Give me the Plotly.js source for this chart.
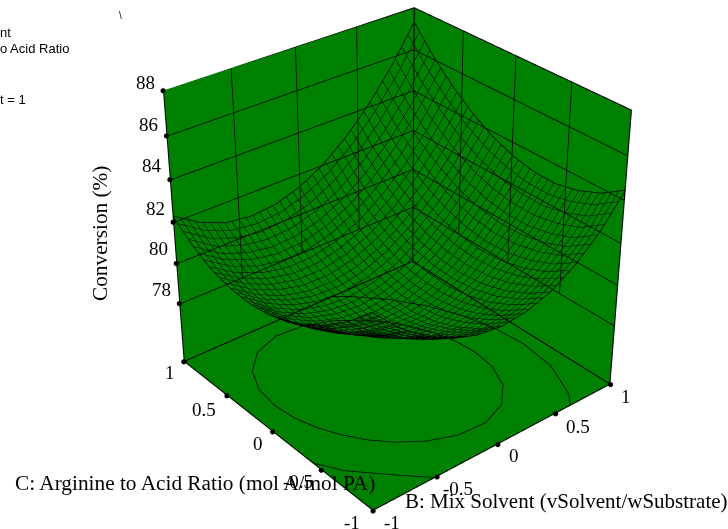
<!DOCTYPE html>
<html><head><meta charset="utf-8">
<script src="https://cdn.plot.ly/plotly-3.0.1.min.js"></script>
<style>html,body{margin:0;padding:0;width:728px;height:529px;overflow:hidden;background:#fff}
#wrap{position:absolute;left:0;top:0;width:728px;height:529px;overflow:hidden}
#plot{position:absolute}</style></head>
<body><div id="wrap"><div id="plot"></div></div>
<script>
const bGrid=[-1,-0.8,-0.6,-0.4,-0.2,0,0.2,0.4,0.6,0.8,1];
const cGrid=[-1,-0.8,-0.6,-0.4,-0.2,0,0.2,0.4,0.6,0.8,1];
const conversion=[
[84.10,82.89,81.96,81.29,80.88,80.75,80.88,81.29,82.02,83.05,84.45],
[83.05,82.00,81.16,80.55,80.14,79.96,80.15,80.60,81.33,82.31,83.75],
[82.20,81.24,80.51,79.95,79.55,79.37,79.60,80.11,80.89,81.93,83.32],
[81.53,80.63,79.95,79.43,79.08,78.96,79.25,79.81,80.63,81.72,83.09],
[81.04,80.14,79.47,79.00,78.76,78.73,79.07,79.69,80.56,81.71,83.12],
[80.75,79.80,79.13,78.72,78.57,78.70,79.09,79.76,80.69,81.88,83.35],
[80.64,79.75,79.12,78.77,78.67,78.85,79.30,80.01,81.00,82.24,83.76],
[80.73,79.88,79.31,79.01,78.97,79.20,79.69,80.46,81.50,82.80,84.37],
[81.00,80.21,79.69,79.43,79.44,79.73,80.28,81.10,82.18,83.53,85.16],
[81.55,80.71,80.25,80.04,80.11,80.44,81.04,81.92,83.05,84.46,86.13],
[82.30,81.50,81.00,80.85,80.96,81.35,82.00,82.93,84.12,85.57,87.30]];
const zTicks=[78,80,82,84,86,88];
const bTicks=[-1,-0.5,0,0.5,1];
const cTicks=[-1,-0.5,0,0.5,1];
const zLabelYShift=[14,15,14,14,11,8];
const bLabelShift=[[19,-12],[21,-12],[16,-11],[22,-13],[16,-12]];
const cLabelShift=[[-21,-12],[-23,-11],[-15,-12],[-23,-14],[-14,-11]];
const zFloor=75, zTop=88;
const ring80B=[0.547,0.501,0.431,0.338,0.217,0.061,-0.133,-0.352,-0.561,-0.718,-0.804,-0.829,-0.813,-0.767,-0.697,-0.604,-0.483,-0.327,-0.133,0.087,0.296,0.452,0.538,0.563,0.547];
const ring80C=[0.027,0.197,0.353,0.498,0.632,0.748,0.829,0.845,0.769,0.612,0.414,0.214,0.027,-0.143,-0.299,-0.445,-0.579,-0.694,-0.776,-0.791,-0.715,-0.559,-0.361,-0.161,0.027];
const arc82RightB=[0.63,0.711,0.78,0.842,0.882,0.856,0.787,0.680,0.537,0.352,0.24];
const arc82RightC=[-1,-0.905,-0.75,-0.603,-0.298,-0.013,0.247,0.484,0.705,0.910,1];
const arc82FrontB=[-1,-0.9,-0.78,-0.65,-0.52];
const arc82FrontC=[-0.42,-0.6,-0.73,-0.87,-1];
const arc82LeftB=[-1,-0.97];
const arc82LeftC=[0.97,1];

const K=2.7, cxPx=395, cyPx=243;
const W=Math.round(728*K), H=Math.round(529*K);
const left=Math.round(cxPx-W/2), top_=Math.round(cyPx-H/2);
const el=document.getElementById('plot');
el.style.left=left+'px'; el.style.top=top_+'px'; el.style.width=W+'px'; el.style.height=H+'px';
const px=(x,y)=>({x:(x-left)/W,y:1-(y-top_)/H});

const eps=0.006, zLift=0.04;
const wx=[],wy=[],wz=[];
const seg=(pts)=>{pts.forEach(p=>{wx.push(p[0]);wy.push(p[1]);wz.push(p[2]);});wx.push(null);wy.push(null);wz.push(null);};
const far=1-eps;
zTicks.forEach(z=>seg([[-1,far,z],[far,far,z],[far,-1,z]]));
bTicks.slice(1,-1).forEach(b=>seg([[b,far,78],[b,far,zTop]]));
cTicks.slice(1,-1).forEach(c=>seg([[far,c,78],[far,c,zTop]]));
const fx=[],fy=[],fz=[];
const seg2=(pts)=>{pts.forEach(p=>{fx.push(p[0]);fy.push(p[1]);fz.push(p[2]);});fx.push(null);fy.push(null);fz.push(null);};
const fl=zFloor+zLift;
seg2([[-1,far,zTop],[-1,far,fl],[far,far,fl],[far,-1,fl],[far,-1,zTop],[far,far,zTop],[-1,far,zTop]]);
seg2([[far,far,zTop],[far,far,fl]]);
seg2([[-1,far,fl],[-1,-1,fl],[far,-1,fl]]);
const contourTrace=(bs,cs)=>({type:'scatter3d',mode:'lines',x:bs,y:cs,z:bs.map(()=>fl),line:{color:'#000',width:1.5},hoverinfo:'skip',showlegend:false});
const n=bGrid.length-1;
const rimTrace=(xs,ys,zs)=>({type:'scatter3d',mode:'lines',x:xs,y:ys,z:zs,line:{color:'#000',width:1.5},hoverinfo:'skip',showlegend:false});

const mesh=2/36;
const data=[
 {type:'surface',x:bGrid,y:cGrid,z:conversion,hidesurface:true,showscale:false,hoverinfo:'skip',
  colorscale:[[0,'#008000'],[1,'#008000']],
  contours:{
   x:{show:true,start:-1,end:1.001,size:mesh,color:'#000',width:3,highlight:false},
   y:{show:true,start:-1,end:1.001,size:mesh,color:'#000',width:3,highlight:false},
   z:{show:false,highlight:false}}},
 rimTrace(bGrid,bGrid.map(()=>-1),conversion[0]),
 rimTrace(bGrid,bGrid.map(()=>1),conversion[n]),
 rimTrace(cGrid.map(()=>-1),cGrid,conversion.map(r=>r[0])),
 rimTrace(cGrid.map(()=>1),cGrid,conversion.map(r=>r[n])),
 contourTrace(ring80B,ring80C),contourTrace(arc82RightB,arc82RightC),contourTrace(arc82FrontB,arc82FrontC),contourTrace(arc82LeftB,arc82LeftC),
 {type:'scatter3d',mode:'lines',x:wx,y:wy,z:wz,line:{color:'#000',width:1.5},hoverinfo:'skip',showlegend:false},
 {type:'scatter3d',mode:'lines',x:fx,y:fy,z:fz,line:{color:'#000',width:2},hoverinfo:'skip',showlegend:false},
 {type:'scatter3d',mode:'markers',
  x:[...zTicks.map(()=>-1),...bTicks,...cTicks.map(()=>-1)],
  y:[...zTicks.map(()=>1),...bTicks.map(()=>-1),...cTicks],
  z:[...zTicks,...bTicks.map(()=>zFloor),...cTicks.map(()=>zFloor)],
  marker:{size:3,color:'#000'},hoverinfo:'skip',showlegend:false}
];
const serif='"Liberation Serif","Times New Roman",serif', sans='"Liberation Sans",Arial,sans-serif';
const tf={family:serif,size:19,color:'#000'};
const sceneAnn=[
 ...zTicks.map((z,i)=>({x:-1,y:1,z:z,text:String(z),showarrow:false,xshift:-18,yshift:zLabelYShift[i],font:tf})),
 ...bTicks.map((b,i)=>({x:b,y:-1,z:zFloor,text:String(b),showarrow:false,xshift:bLabelShift[i][0],yshift:bLabelShift[i][1],font:tf})),
 ...cTicks.map((c,i)=>({x:-1,y:c,z:zFloor,text:String(c),showarrow:false,xshift:cLabelShift[i][0],yshift:cLabelShift[i][1],font:tf}))
];
const note=(t,x,y,font,extra)=>Object.assign({xref:'paper',yref:'paper',x:px(x,y).x,y:px(x,y).y,text:t,showarrow:false,font:font,xanchor:'left',yanchor:'middle'},extra||{});
const titleFont={family:serif,size:21.3,color:'#000'}, bFont={family:serif,size:21,color:'#000'}, legFont={family:sans,size:13,color:'#000'};
const annotations=[
 note('Conversion (%)',100,234,titleFont,{textangle:-90,xanchor:'center'}),
 note('C: Arginine to Acid Ratio (mol A/mol PA)',13,483,titleFont),
 note('B: Mix Solvent (vSolvent/wSubstrate)',403,501,bFont),
 note('nt',-2,32,legFont),
 note('o Acid Ratio',-2,48,legFont),
 note('t = 1',-2,99,legFont),
 note('\\',117,15,{family:sans,size:10,color:'#000'})
];
const ax=()=>({showgrid:false,zeroline:false,showline:false,showticklabels:false,ticks:'',showspikes:false,showbackground:true,backgroundcolor:'#008000',title:{text:''}});
const layout={width:W,height:H,margin:{l:0,r:0,t:0,b:0},paper_bgcolor:'#fff',showlegend:false,annotations:annotations,
 scene:{domain:{x:[0,1],y:[0,1]},aspectmode:'manual',aspectratio:{x:1,y:1,z:1.0},
  camera:{eye:{x:-2.98,y:-3.585,z:2.79},center:{x:0,y:0,z:0},up:{x:0,y:0,z:1},projection:{type:'perspective'}},
  xaxis:Object.assign(ax(),{range:[-1,1]}),yaxis:Object.assign(ax(),{range:[-1,1]}),zaxis:Object.assign(ax(),{range:[zFloor,zTop]}),
  annotations:sceneAnn}};
Plotly.newPlot(el,data,layout,{displayModeBar:false,responsive:false});
</script></body></html>
